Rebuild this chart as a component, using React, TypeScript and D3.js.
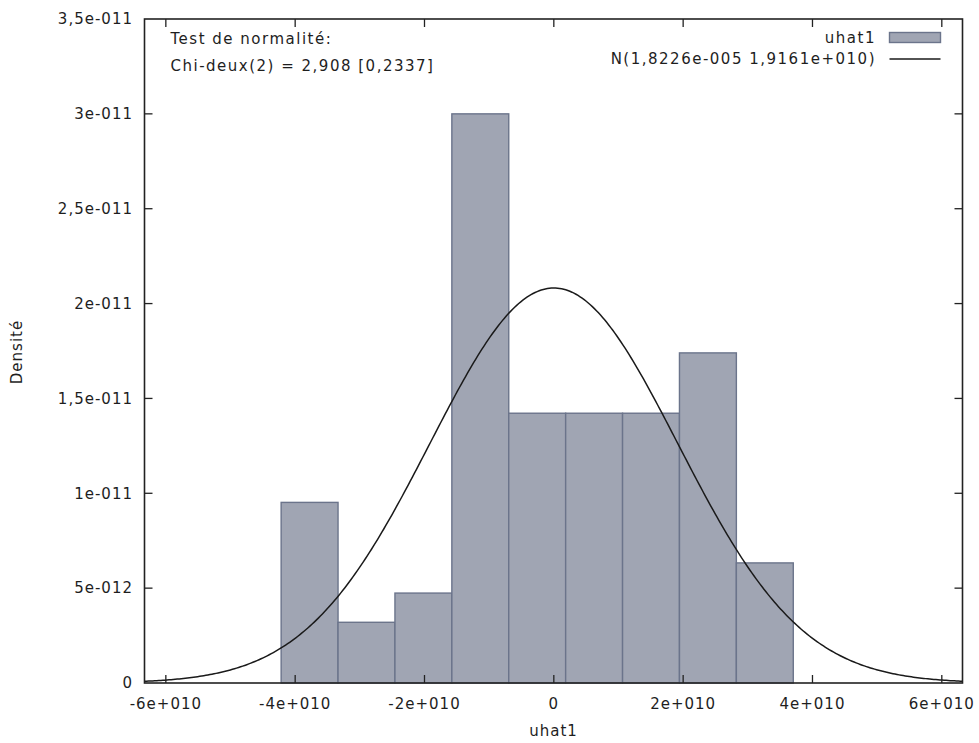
import React from "react";
import * as d3 from "d3";

const binCenters = [-3.777e10, -2.897e10, -2.017e10, -1.137e10, -0.257e10, 0.623e10, 1.503e10, 2.383e10, 3.263e10];
const binWidth = 0.88e10;
const densities = [9.52e-12, 3.2e-12, 4.74e-12, 3.0e-11, 1.422e-11, 1.422e-11, 1.422e-11, 1.74e-11, 6.33e-12];
const normMean = 1.8226e-5;
const normSd = 1.9161e10;
const xTickValues = [-6e10, -4e10, -2e10, 0, 2e10, 4e10, 6e10];
const xTickLabels = ["-6e+010", "-4e+010", "-2e+010", "0", "2e+010", "4e+010", "6e+010"];
const yTickValues = [0, 5e-12, 1e-11, 1.5e-11, 2e-11, 2.5e-11, 3e-11, 3.5e-11];
const yTickLabels = ["0", "5e-012", "1e-011", "1,5e-011", "2e-011", "2,5e-011", "3e-011", "3,5e-011"];
const xLabel = "uhat1";
const yLabel = "Densité";
const legendHist = "uhat1";
const legendNormal = "N(1,8226e-005 1,9161e+010)";
const testLines = ["Test de normalité:", "Chi-deux(2) = 2,908 [0,2337]"];

const W = 979, H = 743;
const L = 144.5, R = 962.5, T = 19, B = 683;

export default function App() {
  const x = d3.scaleLinear().domain([-6.33e10, 6.32e10]).range([L, R]);
  const y = d3.scaleLinear().domain([0, 3.5e-11]).range([B, T]);
  const pdf = (v: number) =>
    Math.exp(-0.5 * ((v - normMean) / normSd) ** 2) / (normSd * Math.sqrt(2 * Math.PI));
  const xs = d3.range(0, 401).map((i) => x.invert(L + ((R - L) * i) / 400));
  const line = d3
    .line<number>()
    .x((d) => x(d))
    .y((d) => y(pdf(d)))
    .curve(d3.curveLinear);
  const font = { fontFamily: "'DejaVu Sans', Verdana, sans-serif", fontSize: 15, letterSpacing: 1, fill: "#1e1e1e" };
  const font2 = { ...font, letterSpacing: 1.5 };
  const tick = 8;
  return (
    <svg width={W} height={H} style={{ position: "absolute", left: 0, top: 0, background: "#fff" }}>
      <g>
        {binCenters.map((c, i) => (
          <rect
            key={i}
            x={x(c - binWidth / 2)}
            y={y(densities[i])}
            width={x(c + binWidth / 2) - x(c - binWidth / 2)}
            height={B - y(densities[i])}
            fill="#a0a5b3"
            stroke="#6b748b"
            strokeWidth={1.4}
          />
        ))}
      </g>
      <path d={line(xs) || ""} fill="none" stroke="#1a1a1a" strokeWidth={1.5} />
      {yTickValues.map((v, i) => (
        <g key={"y" + i}>
          {i > 0 && i < yTickValues.length - 1 && (
            <>
              <line x1={L} x2={L + tick} y1={y(v)} y2={y(v)} stroke="#222" strokeWidth={1.3} />
              <line x1={R} x2={R - tick} y1={y(v)} y2={y(v)} stroke="#222" strokeWidth={1.3} />
            </>
          )}
          <text x={133} y={y(v)} dy="0.35em" textAnchor="end" {...font}>
            {yTickLabels[i]}
          </text>
        </g>
      ))}
      {xTickValues.map((v, i) => (
        <g key={"x" + i}>
          <line x1={x(v)} x2={x(v)} y1={B} y2={B - tick} stroke="#222" strokeWidth={1.3} />
          <line x1={x(v)} x2={x(v)} y1={T} y2={T + tick} stroke="#222" strokeWidth={1.3} />
          <text x={x(v)} y={703.5} dy="0.35em" textAnchor="middle" {...font}>
            {xTickLabels[i]}
          </text>
        </g>
      ))}
      <rect x={L} y={T} width={R - L} height={B - T} fill="none" stroke="#222" strokeWidth={1.6} />
      <text x={(L + R) / 2} y={731} dy="0.35em" textAnchor="middle" {...font}>
        {xLabel}
      </text>
      <text transform={`translate(17,352) rotate(-90)`} textAnchor="middle" dy="0.35em" {...font}>
        {yLabel}
      </text>
      {testLines.map((t, i) => (
        <text key={"t" + i} x={170.5} y={39 + i * 27} dy="0.35em" {...font2}>
          {t}
        </text>
      ))}
      <text x={876} y={38} dy="0.35em" textAnchor="end" {...font2}>
        {legendHist}
      </text>
      <rect x={889.5} y={32.5} width={51} height={10} fill="#a0a5b3" stroke="#6b748b" strokeWidth={1.4} />
      <text x={876} y={59} dy="0.35em" textAnchor="end" {...font2}>
        {legendNormal}
      </text>
      <line x1={889.5} x2={940.5} y1={59} y2={59} stroke="#1a1a1a" strokeWidth={1.5} />
    </svg>
  );
}
